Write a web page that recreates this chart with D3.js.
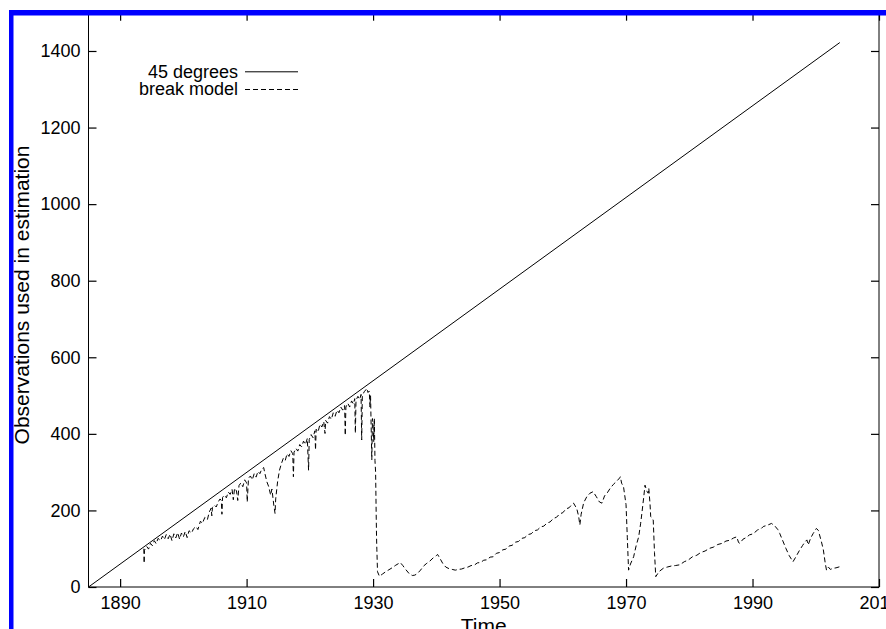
<!DOCTYPE html>
<html>
<head>
<meta charset="utf-8">
<script src="https://cdn.jsdelivr.net/npm/d3@7"></script>
<style>
  body { margin: 0; background: #fff; }
  svg { display: block; font-family: "Liberation Sans", Arial, sans-serif; }
</style>
</head>
<body>
<div id="chart"></div>
<script>
// observations used in estimation, by date (monthly sample)
const degreeYears = [1885, 2003.8];
const degreeValues = [0, 1422];

const breakYears = [
  1893.75, 1893.8, 1893.85, 1894.2, 1894.5, 1894.8, 1895.1, 1895.4, 1895.7, 1896.0,
  1896.4, 1896.7, 1897.0, 1897.3, 1897.6, 1897.9, 1898.2, 1898.5, 1898.8, 1899.1,
  1899.4, 1899.7, 1900.0, 1900.3, 1900.6, 1900.9, 1901.3, 1901.6, 1902.0, 1902.3,
  1902.7, 1903.0, 1903.4, 1903.8, 1904.1, 1904.4, 1904.5, 1904.6, 1904.9, 1905.2,
  1905.5, 1905.8, 1906.0, 1906.1, 1906.2, 1906.5, 1906.8, 1907.1, 1907.4, 1907.7,
  1907.9, 1908.1, 1908.4, 1908.6, 1908.8, 1909.1, 1909.4, 1909.7, 1910.0, 1910.1,
  1910.3, 1910.6, 1910.9, 1911.2, 1911.5, 1911.8, 1912.1, 1912.4, 1912.7, 1912.9,
  1913.2, 1913.5, 1913.8, 1914.0, 1914.3, 1914.5, 1914.6, 1914.9, 1915.2, 1915.5,
  1915.8, 1916.1, 1916.4, 1916.7, 1917.0, 1917.3, 1917.4, 1917.5, 1917.8, 1918.1,
  1918.4, 1918.7, 1919.0, 1919.3, 1919.6, 1919.8, 1919.9, 1920.2, 1920.5, 1920.8,
  1920.9, 1921.0, 1921.3, 1921.6, 1921.9, 1922.2, 1922.4, 1922.5, 1922.8, 1923.1,
  1923.4, 1923.7, 1924.0, 1924.3, 1924.6, 1924.9, 1925.2, 1925.5, 1925.6, 1925.7,
  1926.0, 1926.3, 1926.6, 1926.9, 1927.1, 1927.2, 1927.3, 1927.6, 1927.9, 1928.1,
  1928.2, 1928.3, 1928.6, 1928.9, 1929.0, 1929.2, 1929.4, 1929.5, 1929.6, 1929.8,
  1929.9, 1930.0, 1930.1, 1930.2, 1930.3, 1930.4, 1930.5, 1930.55, 1930.6, 1930.7,
  1931.0, 1931.5, 1932.0, 1932.5, 1933.0, 1933.5, 1934.0, 1934.3, 1934.7, 1935.2,
  1935.7, 1936.2, 1936.6, 1937.0, 1937.5, 1938.0, 1938.5, 1939.0, 1939.5, 1940.0,
  1940.2, 1940.6, 1941.0, 1941.5, 1942.0, 1942.5, 1943.0, 1943.5, 1944.0, 1944.5,
  1945.0, 1945.5, 1946.0, 1946.5, 1947.0, 1947.5, 1948.0, 1948.5, 1949.0, 1949.5,
  1950.0, 1950.5, 1951.0, 1951.5, 1952.0, 1952.5, 1953.0, 1953.5, 1954.0, 1954.5,
  1955.0, 1955.5, 1956.0, 1956.5, 1957.0, 1957.5, 1958.0, 1958.5, 1959.0, 1959.5,
  1960.0, 1960.5, 1961.0, 1961.4, 1961.7, 1962.2, 1962.5, 1962.7, 1962.9, 1963.3,
  1963.8, 1964.3, 1964.8, 1965.3, 1965.8, 1966.2, 1966.6, 1967.0, 1967.5, 1968.0,
  1968.5, 1969.0, 1969.1, 1969.3, 1969.6, 1970.0, 1970.2, 1970.4, 1970.7, 1971.2,
  1971.6, 1972.0, 1972.3, 1972.5, 1972.8, 1973.0, 1973.3, 1973.5, 1973.6, 1973.8,
  1973.9, 1974.3, 1974.5, 1974.7, 1975.2, 1975.9, 1976.5, 1977.2, 1977.8, 1978.5,
  1979.2, 1979.8, 1980.5, 1981.2, 1981.8, 1982.5, 1983.2, 1983.8, 1984.5, 1985.2,
  1985.8, 1986.4, 1987.0, 1987.5, 1987.8, 1988.0, 1988.5, 1989.0, 1989.5, 1990.1,
  1990.8, 1991.4, 1991.7, 1992.3, 1993.0, 1993.5, 1994.0, 1994.3, 1994.8, 1995.3,
  1995.8, 1996.4, 1996.9, 1997.4, 1997.9, 1998.3, 1998.6, 1998.8, 1999.2, 1999.6,
  2000.1, 2000.4, 2000.6, 2000.9, 2001.2, 2001.5, 2001.7, 2002.0, 2002.3, 2002.8,
  2003.2, 2003.8
];
const breakValues = [
  100, 62, 96, 106, 99, 114, 108, 121, 113, 127,
  121, 133, 124, 137, 126, 138, 121, 139, 128, 142,
  125, 141, 131, 145, 129, 147, 141, 152, 158, 150,
  172, 166, 182, 176, 196, 206, 186, 208, 214, 209,
  222, 230, 226, 190, 234, 240, 233, 248, 242, 255,
  228, 258, 251, 226, 265, 272, 262, 280, 272, 222,
  284, 290, 280, 296, 287, 302, 296, 308, 312, 296,
  275, 262, 240, 256, 214, 192, 230, 275, 305, 322,
  336, 330, 348, 341, 356, 348, 288, 352, 362, 355,
  372, 366, 381, 372, 388, 305, 385, 398, 390, 408,
  358, 412, 405, 425, 418, 432, 401, 435, 428, 445,
  438, 455, 446, 462, 455, 470, 462, 474, 396, 470,
  480, 470, 486, 478, 492, 402, 488, 498, 490, 503,
  384, 500, 510, 516, 519, 508, 512, 470, 500, 332,
  440, 425, 380, 440, 330, 300, 180, 128, 97, 40,
  28, 34, 40, 45, 50, 56, 61, 64, 56, 45,
  35, 30, 31, 35, 44, 55, 62, 68, 76, 82,
  85, 74, 62, 52, 48, 46, 44, 46, 47, 50,
  52, 56, 57, 63, 64, 70, 71, 78, 79, 88,
  90, 97, 99, 107, 109, 117, 119, 127, 129, 137,
  139, 147, 149, 157, 159, 167, 170, 179, 182, 191,
  194, 204, 207, 215, 219, 205, 185, 162, 190, 220,
  236, 245, 249, 236, 222, 219, 238, 245, 258, 268,
  276, 285, 288, 271, 262, 215, 130, 44, 60, 79,
  108, 131, 165, 192, 235, 266, 250, 245, 258, 215,
  184, 175, 90, 27, 40, 49, 52, 55, 56, 58,
  66, 70, 79, 83, 90, 94, 101, 104, 111, 114,
  120, 122, 128, 131, 116, 114, 125, 129, 136, 139,
  149, 153, 158, 161, 166, 160, 150, 140, 120, 100,
  82, 66, 80, 95, 108, 118, 123, 110, 128, 140,
  153, 148, 136, 118, 97, 62, 44, 52, 46, 49,
  50, 53
];

const xTicks = [1890, 1910, 1930, 1950, 1970, 1990, 2010];
const yTicks = [0, 200, 400, 600, 800, 1000, 1200, 1400];
const legendLabels = ['45 degrees', 'break model'];

const width = 886;
const height = 629;
const plot = { left: 88.5, right: 879, top: 12.7, bottom: 587 };

const svg = d3.select('#chart')
  .append('svg')
  .attr('width', width)
  .attr('height', height);

svg.append('rect').attr('width', width).attr('height', height).attr('fill', '#fff');

const x = d3.scaleLinear().domain([1885, 2010]).range([plot.left, plot.right]);
const y = d3.scaleLinear().domain([0, 1500]).range([plot.bottom, plot.top]);

// ticks point inward on all four sides
const bottomAxis = svg.append('g')
  .attr('transform', `translate(0,${plot.bottom})`)
  .call(d3.axisBottom(x).tickValues(xTicks).tickFormat(d3.format('d')).tickSize(-8).tickSizeOuter(0));
bottomAxis.selectAll('text').attr('y', 9).attr('dy', '0.71em').style('font-size', '18px').attr('fill', '#000');

svg.append('g')
  .attr('transform', `translate(0,${plot.top})`)
  .call(d3.axisTop(x).tickValues(xTicks).tickFormat('').tickSize(-8).tickSizeOuter(0));

const leftAxis = svg.append('g')
  .attr('transform', `translate(${plot.left},0)`)
  .call(d3.axisLeft(y).tickValues(yTicks).tickFormat(d3.format('d')).tickSize(-8).tickSizeOuter(0));
leftAxis.selectAll('text').attr('x', -8).style('font-size', '18px').attr('fill', '#000');

svg.append('g')
  .attr('transform', `translate(${plot.right},0)`)
  .call(d3.axisRight(y).tickValues(yTicks).tickFormat('').tickSize(-8).tickSizeOuter(0));

svg.selectAll('.domain').remove();
svg.selectAll('.tick line').attr('stroke', '#000').attr('stroke-width', 1.2);

svg.append('rect')
  .attr('x', plot.left)
  .attr('y', plot.top)
  .attr('width', plot.right - plot.left)
  .attr('height', plot.bottom - plot.top)
  .attr('fill', 'none')
  .attr('stroke', '#000')
  .attr('stroke-width', 1);

const line = d3.line()
  .x(d => x(d[0]))
  .y(d => y(d[1]));

svg.append('path')
  .datum(d3.zip(degreeYears, degreeValues))
  .attr('d', line)
  .attr('fill', 'none')
  .attr('stroke', '#000')
  .attr('stroke-width', 1);

svg.append('path')
  .datum(d3.zip(breakYears, breakValues))
  .attr('d', line)
  .attr('fill', 'none')
  .attr('stroke', '#000')
  .attr('stroke-width', 1)
  .attr('stroke-dasharray', '5,3');

// legend
const legend = svg.append('g');
legendLabels.forEach((label, i) => {
  const ty = 77.5 + i * 17.7;
  legend.append('text')
    .attr('x', 238)
    .attr('y', ty)
    .attr('text-anchor', 'end')
    .style('font-size', '18px')
    .text(label);
  legend.append('line')
    .attr('x1', 245)
    .attr('x2', 298)
    .attr('y1', ty - 5.7)
    .attr('y2', ty - 5.7)
    .attr('stroke', '#000')
    .attr('stroke-width', 1)
    .attr('stroke-dasharray', i === 0 ? null : '5,3');
});

// axis titles
svg.append('text')
  .attr('x', (plot.left + plot.right) / 2)
  .attr('y', 633)
  .attr('text-anchor', 'middle')
  .style('font-size', '21px')
  .text('Time');

svg.append('text')
  .attr('transform', 'translate(29,295) rotate(-90)')
  .attr('text-anchor', 'middle')
  .style('font-size', '21px')
  .text('Observations used in estimation');

// blue frame of the figure
svg.append('rect').attr('x', 9).attr('y', 10).attr('width', 4.5).attr('height', height - 10).attr('fill', '#0000ff');
svg.append('rect').attr('x', 9).attr('y', 10).attr('width', width - 9).attr('height', 5.5).attr('fill', '#0000ff');
</script>
</body>
</html>
